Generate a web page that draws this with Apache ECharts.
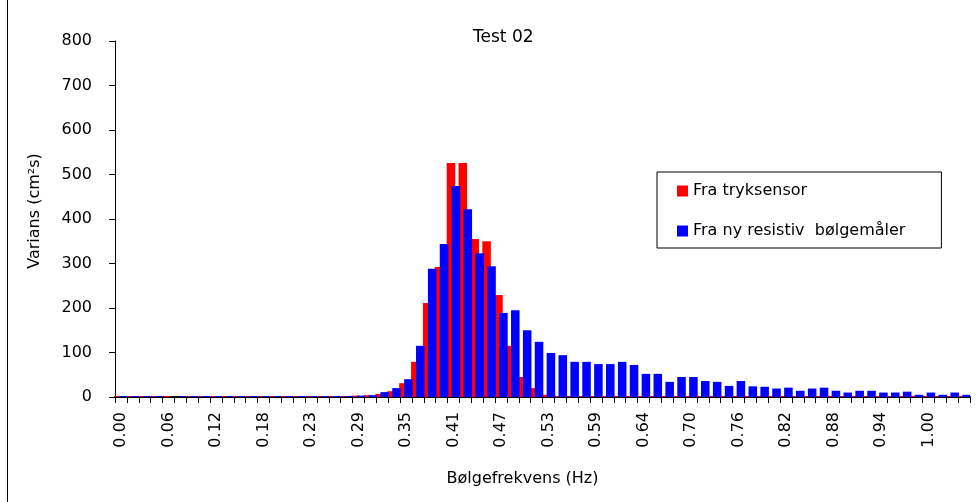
<!DOCTYPE html>
<html>
<head>
<meta charset="utf-8">
<title>Test 02</title>
<script src="https://cdn.jsdelivr.net/npm/echarts@6/dist/echarts.min.js"></script>
<style>
  html, body { margin: 0; padding: 0; background: #fff; }
  #chart { width: 978px; height: 502px; }
</style>
</head>
<body>
<div id="chart"></div>
<script>
// frekvens (Hz), en kategori per spektrallinje
const freqLabels = [
  '0.00', '0.01', '0.03', '0.04', '0.06', '0.07', '0.09', '0.10', '0.12', '0.13', '0.15', '0.16',
  '0.18', '0.19', '0.21', '0.22', '0.23', '0.25', '0.26', '0.28', '0.29', '0.31', '0.32', '0.34',
  '0.35', '0.37', '0.38', '0.40', '0.41', '0.42', '0.44', '0.45', '0.47', '0.48', '0.50', '0.51',
  '0.53', '0.54', '0.56', '0.57', '0.59', '0.60', '0.62', '0.63', '0.64', '0.66', '0.67', '0.69',
  '0.70', '0.72', '0.73', '0.75', '0.76', '0.78', '0.79', '0.81', '0.82', '0.83', '0.85', '0.86',
  '0.88', '0.89', '0.91', '0.92', '0.94', '0.95', '0.97', '0.98', '1.00', '1.01', '1.03', '1.04'
]

// varians (cm2s) fra trykksensor
const trykkValues = [
  2, 2, 2, 2, 2, 0, 2, 2, 2, 2, 2, 2,
  2, 2, 2, 2, 2, 2, 2, 2, 3, 4, 7, 13,
  31, 79, 211, 292, 526, 526, 355, 350, 229, 115, 45, 20,
  5, 2, 2, 2, 2, 2, 2, 2, 2, 2, 2, 2,
  2, 2, 2, 2, 2, 2, 2, 2, 2, 2, 2, 2,
  2, 2, 2, 2, 2, 2, 2, 2, 2, 2, 2, 2
]

// varians (cm2s) fra ny resistiv boelgemaaler
const resistivValues = [
  2, 2, 2, 2, 0, 2, 2, 2, 2, 2, 2, 2,
  2, 2, 2, 2, 2, 2, 2, 2, 3, 4, 11, 20,
  40, 115, 288, 344, 474, 422, 323, 294, 189, 195, 150, 124,
  99, 94, 79, 79, 74, 74, 79, 72, 52, 52, 34, 45,
  45, 36, 34, 25, 36, 24, 23, 19, 21, 14, 19, 21,
  14, 10, 14, 14, 10, 10, 12, 5, 10, 5, 10, 5
]

const font = 'DejaVu Sans'

const chart = echarts.init(document.getElementById('chart'), null, { renderer: 'canvas' })

const option = {
  animation: false,
  backgroundColor: '#ffffff',
  textStyle: { fontFamily: font, color: '#000' },
  title: {
    text: 'Test 02',
    left: 468,
    top: 24,
    textStyle: { fontFamily: font, fontSize: 17, fontWeight: 'normal', color: '#000' }
  },
  legend: {
    orient: 'vertical',
    left: 657,
    top: 172,
    padding: [11, 36, 9, 20],
    itemGap: 24,
    itemWidth: 11,
    itemHeight: 11,
    icon: 'rect',
    borderColor: '#000',
    borderWidth: 1,
    backgroundColor: '#fff',
    textStyle: { fontFamily: font, fontSize: 16, color: '#000' },
    data: ['Fra tryksensor', 'Fra ny resistiv  bølgemåler']
  },
  grid: {
    left: 115,
    right: 8,
    top: 41,
    bottom: 105,
    containLabel: false
  },
  xAxis: {
    type: 'category',
    data: freqLabels,
    boundaryGap: true,
    name: 'Bølgefrekvens (Hz)',
    nameLocation: 'middle',
    nameGap: 74,
    nameTextStyle: { fontFamily: font, fontSize: 16, color: '#000', padding: [0, 40, 0, 0] },
    axisLine: { lineStyle: { color: '#000', width: 2 } },
    axisTick: { show: true, interval: 0, length: 6, lineStyle: { color: '#000', width: 1 } },
    axisLabel: {
      interval: 3,
      rotate: 90,
      margin: 15,
      fontFamily: font,
      fontSize: 16,
      color: '#000'
    },
    splitLine: { show: false }
  },
  yAxis: {
    type: 'value',
    min: 0,
    max: 800,
    interval: 100,
    name: 'Varians (cm²s)',
    nameLocation: 'middle',
    nameGap: 72,
    nameRotate: 90,
    nameTextStyle: { fontFamily: font, fontSize: 16, color: '#000', padding: [0, 0, 0, 16] },
    axisLine: { show: true, lineStyle: { color: '#000', width: 1 } },
    axisTick: { show: true, length: 6, lineStyle: { color: '#000' } },
    axisLabel: { margin: 23, fontFamily: font, fontSize: 16, color: '#000' },
    splitLine: { show: false }
  },
  series: [
    {
      name: 'Fra tryksensor',
      type: 'bar',
      data: trykkValues,
      barWidth: '72%',
      barGap: '-42%',
      itemStyle: { color: '#ff0000' }
    },
    {
      name: 'Fra ny resistiv  bølgemåler',
      type: 'bar',
      data: resistivValues,
      barWidth: '72%',
      barGap: '-42%',
      itemStyle: { color: '#0000ff' }
    }
  ],
  graphic: [
    {
      // ramme til venstre
      type: 'line',
      shape: { x1: 7.5, y1: 0, x2: 7.5, y2: 502 },
      style: { stroke: '#000', lineWidth: 1 }
    }
  ]
}

chart.setOption(option)
</script>
</body>
</html>
